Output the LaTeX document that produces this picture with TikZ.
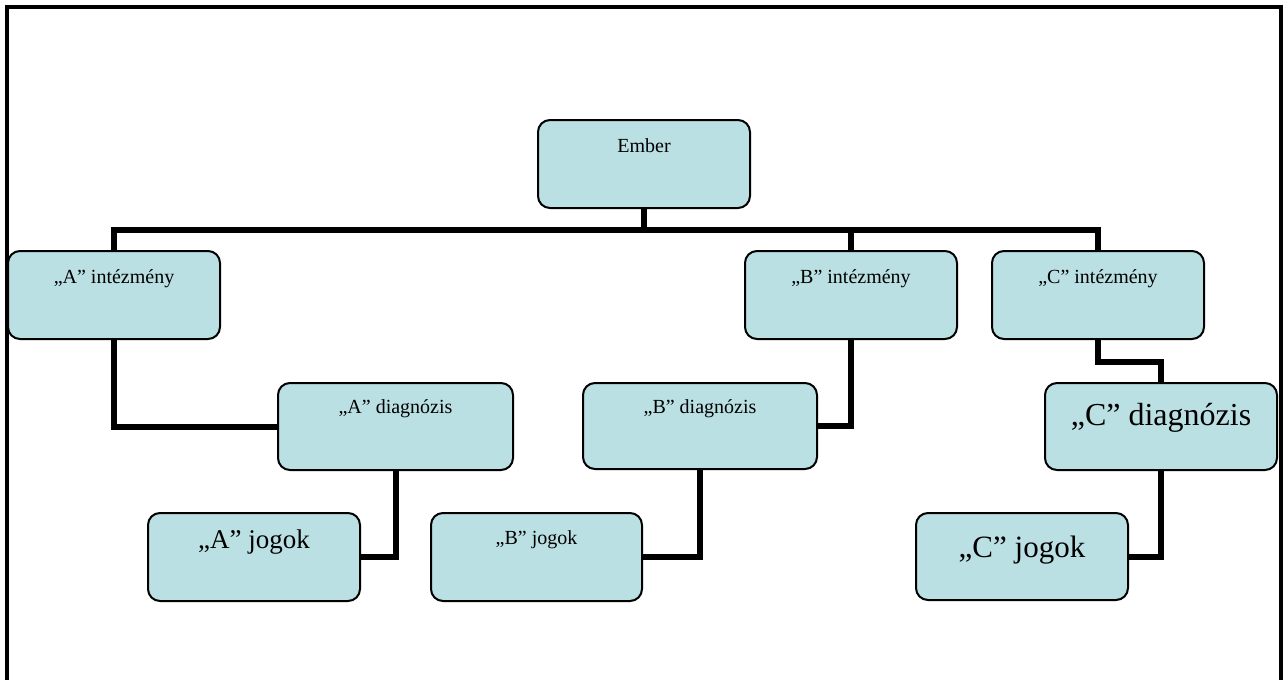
\documentclass[tikz,border=0pt]{standalone}
\usepackage{fontspec}
\setmainfont{Liberation Serif}
\usetikzlibrary{backgrounds}
\definecolor{boxfill}{RGB}{187,224,227}
\tikzset{
  box/.style={draw=black, line width=2pt, fill=boxfill, rounded corners=12pt,
    inner sep=0pt, outer sep=0pt, rectangle},
  conn/.style={line width=6pt, draw=black},
  frame/.style={line width=4pt, draw=black},
  txt/.style={anchor=base, inner sep=0pt, text=black},
  small/.style={font=\fontsize{20}{24}\selectfont},
}
\begin{document}
\begin{tikzpicture}[x=1pt,y=-1pt]
\useasboundingbox (0,0) rectangle (1283,680);

% boxes
\node[box, minimum width=212pt, minimum height=88pt] (Ember) at (644,164) {};
\node[box, minimum width=212pt, minimum height=88pt] (Aint) at (114,295) {};
\node[box, minimum width=212pt, minimum height=88pt] (Bint) at (851,295) {};
\node[box, minimum width=212pt, minimum height=88pt] (Cint) at (1098,295) {};
\node[box, minimum width=235pt, minimum height=87pt] (Adiag) at (395.5,426.5) {};
\node[box, minimum width=234pt, minimum height=86pt] (Bdiag) at (700,426) {};
\node[box, minimum width=232pt, minimum height=87pt] (Cdiag) at (1161,426.5) {};
\node[box, minimum width=212pt, minimum height=88pt] (Ajog) at (254,557) {};
\node[box, minimum width=211pt, minimum height=88pt] (Bjog) at (536.5,557) {};
\node[box, minimum width=212pt, minimum height=87pt] (Cjog) at (1022,556.5) {};

% texts
\node[txt, small] (tEmber) at (644,152) {Ember};
\node[txt, small] (tAint) at (114,283) {„A” intézmény};
\node[txt, small] (tBint) at (851,283) {„B” intézmény};
\node[txt, small] (tCint) at (1098,283) {„C” intézmény};
\node[txt, small] (tAdiag) at (395.5,413) {„A” diagnózis};
\node[txt, small] (tBdiag) at (700,413) {„B” diagnózis};
\node[txt, font=\fontsize{32}{38}\selectfont] (tCdiag) at (1161,425) {„C” diagnózis};
\node[txt, font=\fontsize{27}{32}\selectfont] (tAjog) at (254,548) {„A” jogok};
\node[txt, small] (tBjog) at (536.5,544) {„B” jogok};
\node[txt, font=\fontsize{31}{37}\selectfont] (tCjog) at (1022,557) {„C” jogok};

\begin{pgfonlayer}{background}
% frame
\coordinate (f1) at (7,680);
\coordinate (f2) at (7,7);
\coordinate (f3) at (1281,7);
\coordinate (f4) at (1281,680);
\draw[frame] (f1) -- (f2) -- (f3) -- (f4);
% connectors
\coordinate (bus) at (644,230);
\coordinate (cbend) at (1098,362);
\draw[conn] (Ember.south) -- (bus);
\draw[conn] (bus) -| (Aint.north);
\draw[conn] (bus) -| (Bint.north);
\draw[conn] (bus) -| (Cint.north);
\draw[conn] (Aint.south) |- (Adiag.west);
\draw[conn] (Adiag.south) |- (Ajog.east);
\draw[conn] (Bint.south) |- (Bdiag.east);
\draw[conn] (Bdiag.south) |- (Bjog.east);
\draw[conn] (Cint.south) -- (cbend) -| (Cdiag.north);
\draw[conn] (Cdiag.south) |- (Cjog.east);
\end{pgfonlayer}
\end{tikzpicture}
\end{document}
